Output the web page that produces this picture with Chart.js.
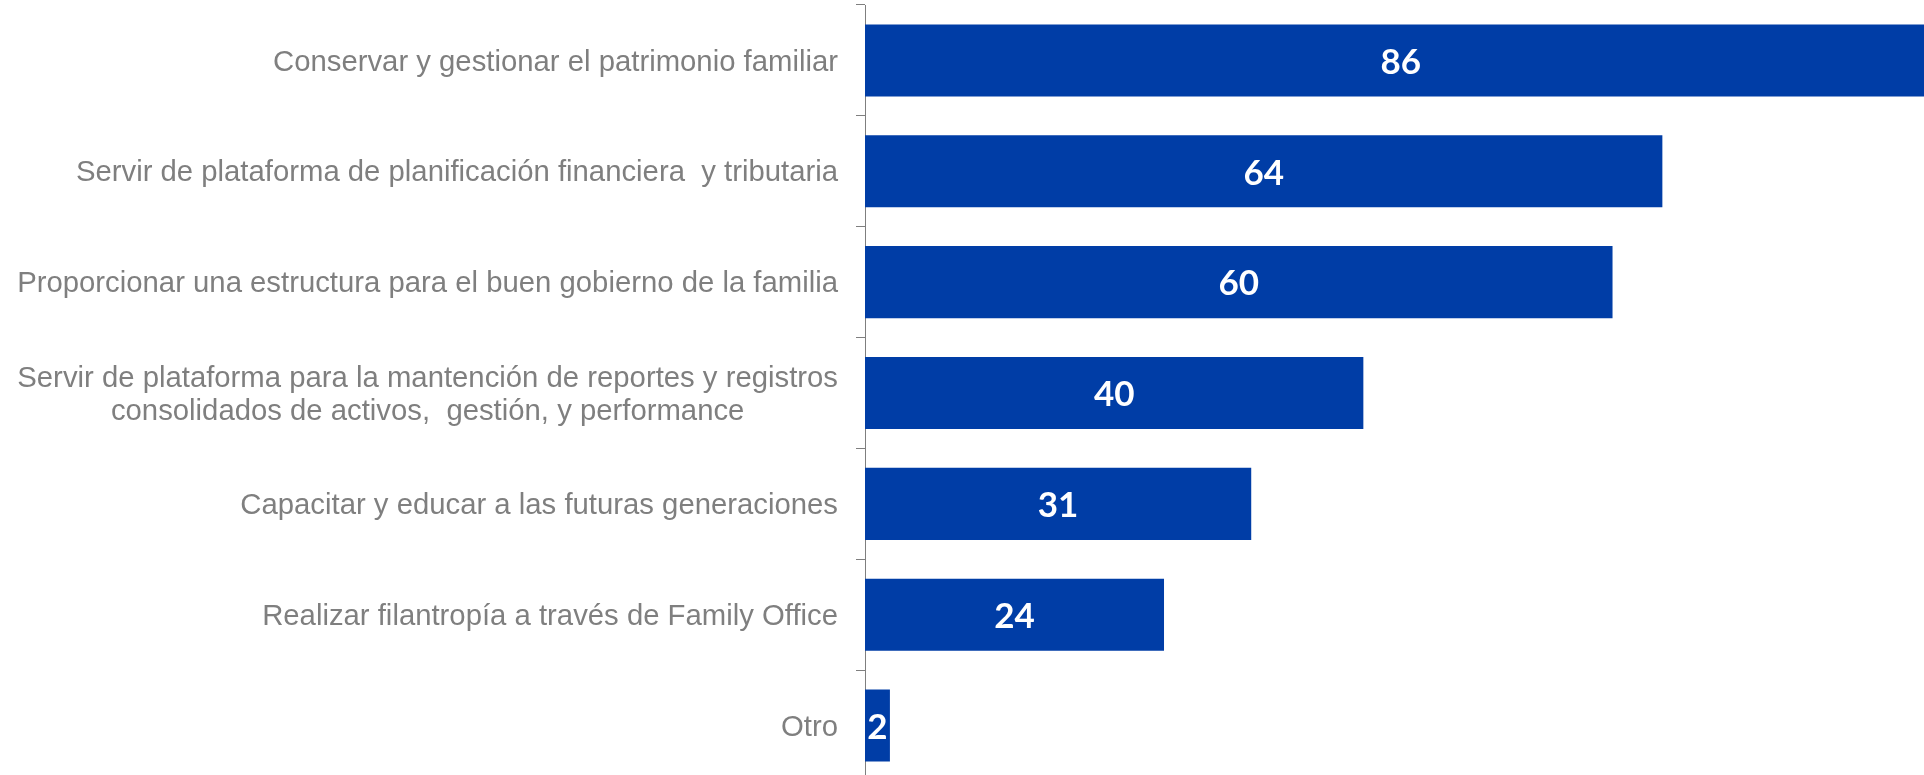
<!DOCTYPE html>
<html>
<head>
<meta charset="utf-8">
<script src="https://cdn.jsdelivr.net/npm/chart.js@4"></script>
<style>
  html, body { margin: 0; padding: 0; background: #fff; overflow: hidden; }
  #wrap { width: 1924px; height: 790px; }
</style>
</head>
<body>
<div id="wrap"><canvas id="objetivos" width="1924" height="790"></canvas></div>
<script>
// categories (multi-line labels as arrays)
const categories = [
  ["Conservar y gestionar el patrimonio familiar"],
  ["Servir de plataforma de planificación financiera  y tributaria"],
  ["Proporcionar una estructura para el buen gobierno de la familia"],
  ["Servir de plataforma para la mantención de reportes y registros", "consolidados de activos,  gestión, y performance"],
  ["Capacitar y educar a las futuras generaciones"],
  ["Realizar filantropía a través de Family Office"],
  ["Otro"],
];
const values = [86, 64, 60, 40, 31, 24, 2];

const BAR_COLOR = "#003da6";
const LABEL_COLOR = "#7f7f7f";
const AXIS_COLOR = "#7f7f7f";

// category labels: right aligned block, lines centered within the block
const categoryLabels = {
  id: "categoryLabels",
  afterDraw(chart) {
    const ctx = chart.ctx;
    const y = chart.scales.y;
    const right = chart.chartArea.left - 9 - 18;
    const lineH = 33;
    ctx.save();
    ctx.font = "29.3px 'Liberation Sans', Arial, sans-serif";
    ctx.fillStyle = LABEL_COLOR;
    ctx.textBaseline = "middle";
    ctx.textAlign = "center";
    categories.forEach((lines, i) => {
      const cy = y.getPixelForTick(i) + 2;
      const w = Math.max(...lines.map((l) => ctx.measureText(l).width));
      const cx = right - w / 2;
      lines.forEach((line, j) => {
        ctx.fillText(line, cx, cy + (j - (lines.length - 1) / 2) * lineH);
      });
    });
    ctx.restore();
  },
};

// value labels centred inside each bar
const valueLabels = {
  id: "valueLabels",
  afterDatasetsDraw(chart) {
    const ctx = chart.ctx;
    const meta = chart.getDatasetMeta(0);
    ctx.save();
    ctx.font = "bold 35px Lato, 'Open Sans', sans-serif";
    ctx.fillStyle = "#ffffff";
    ctx.textAlign = "center";
    ctx.textBaseline = "middle";
    meta.data.forEach((bar, i) => {
      const cx = (bar.base + bar.x) / 2;
      ctx.fillText(String(values[i]), cx, bar.y + 2);
    });
    ctx.restore();
  },
};

new Chart(document.getElementById("objetivos"), {
  type: "bar",
  data: {
    labels: categories.map((c) => c.join(" ")),
    datasets: [
      {
        data: values,
        backgroundColor: BAR_COLOR,
        borderWidth: 0,
        categoryPercentage: 1,
        barPercentage: 0.65,
      },
    ],
  },
  options: {
    indexAxis: "y",
    responsive: false,
    animation: false,
    devicePixelRatio: 1,
    layout: { padding: { top: 5, bottom: 9, left: 0, right: 0 } },
    plugins: {
      legend: { display: false },
      tooltip: { enabled: false },
      title: { display: false },
    },
    scales: {
      x: {
        display: false,
        min: 0,
        max: 85,
      },
      y: {
        offset: true,
        afterFit(scale) {
          scale.width = 865;
        },
        ticks: { display: false },
        grid: {
          offset: true,
          drawOnChartArea: false,
          drawTicks: true,
          tickLength: 9,
          color: AXIS_COLOR,
        },
        border: { display: true, color: AXIS_COLOR, width: 1 },
      },
    },
  },
  plugins: [categoryLabels, valueLabels],
});
</script>
</body>
</html>
